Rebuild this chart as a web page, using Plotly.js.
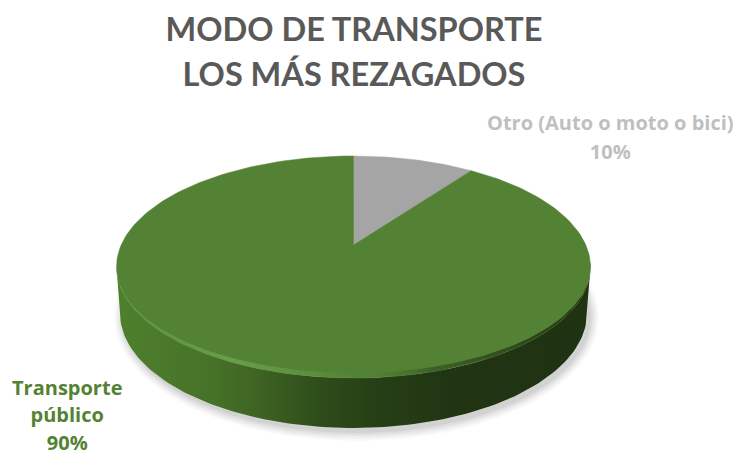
<!DOCTYPE html>
<html>
<head>
<meta charset="utf-8">
<script src="https://cdn.plot.ly/plotly-3.0.1.min.js"></script>
<style>html,body{margin:0;padding:0;background:#fff}#chart{width:737px;height:455px}</style>
</head>
<body>
<div id="chart"></div>
<script>
// Data
const titleLines = ['MODO DE TRANSPORTE', 'LOS MÁS REZAGADOS'];
const categories = ['Otro (Auto o moto o bici)', 'Transporte<br>público'];
const values = [10, 90];
const sliceColors = ['#A5A5A5', '#548235'];
const labelColors = ['#BFBFBF', '#548235'];

// 3D view of the pie (pixel-based axes)
const cx = 353.5, cy = 267, rx = 237, ry = 111, tilt = 0.198;
const wall = {cx: 353.5, cy: 313, rx: 233.5, ry: 115};
const TITLE_FONT = 'Lato, "Open Sans", sans-serif';
const LABEL_FONT = '"Open Sans", Lato, sans-serif';

function onDisc(frac, r) {
  const t = frac * 2 * Math.PI, u = Math.sin(t) * (r === undefined ? 1 : r), v = Math.cos(t) * (r === undefined ? 1 : r);
  const d = 1 + tilt * v;
  return [cx + rx * Math.sqrt(1 - tilt * tilt) * u / d, cy - ry * (v + tilt) / d];
}
function arc(e, a0, a1, n) {
  const xs = [], ys = [];
  for (let i = 0; i <= n; i++) {
    const a = (a0 + (a1 - a0) * i / n) * Math.PI / 180;
    xs.push(e.cx + e.rx * Math.cos(a)); ys.push(e.cy + e.ry * Math.sin(a));
  }
  return [xs, ys];
}
const top_ = {cx, cy, rx, ry};
const traces = [];

// soft shadow under the disc
[[9, 0.025], [7, 0.03], [5, 0.035], [3, 0.04], [1, 0.05]].forEach(([g, al]) => {
  const [x, y] = arc({cx: wall.cx + 3, cy: wall.cy + 4, rx: wall.rx + g, ry: wall.ry + g}, 0, 360, 120);
  traces.push({type: 'scatter', mode: 'lines', x, y, fill: 'toself', fillcolor: `rgba(0,0,0,${al})`, line: {width: 0}, hoverinfo: 'skip', showlegend: false});
});

// side wall
{
  const [x0, y0] = arc(top_, 180, 0, 120);
  const [x1, y1] = arc(wall, 0, 180, 120);
  traces.push({
    type: 'scatter', mode: 'lines', x: x0.concat(x1), y: y0.concat(y1), fill: 'toself',
    line: {width: 0}, hoverinfo: 'skip', showlegend: false,
    fillgradient: {type: 'horizontal', colorscale: [
      [0, '#4E802C'], [0.2, '#467228'], [0.3, '#3E6323'], [0.42, '#2F4E1B'],
      [0.55, '#263F16'], [0.7, '#213513'], [1, '#1F3212']]}
  });
}

// slices on the top surface, driven by the values
const total = values.reduce((a, b) => a + b, 0);
let start = 0;
values.forEach((v, i) => {
  const end = start + v / total, x = [], y = [];
  const n = Math.max(4, Math.round((end - start) * 240));
  for (let k = 0; k <= n; k++) {
    const p = onDisc(start + (end - start) * k / n);
    x.push(p[0]); y.push(p[1]);
  }
  const c = onDisc(0, 0);
  x.push(c[0]); y.push(c[1]); x.push(x[0]); y.push(y[0]);
  traces.push({type: 'scatter', mode: 'lines', x, y, fill: 'toself', fillcolor: sliceColors[i],
    line: {width: 0.5, color: sliceColors[i]}, name: categories[i], hoverinfo: 'name', showlegend: false});
  start = end;
});

// bevel on the front rim
{
  const [x0, y0] = arc(top_, 183, -3, 140);
  const [x1, y1] = arc({cx, cy, rx: rx, ry: ry - 5}, -3, 183, 140);
  traces.push({
    type: 'scatter', mode: 'lines', x: x0.concat(x1), y: y0.concat(y1), fill: 'toself',
    line: {width: 0}, hoverinfo: 'skip', showlegend: false,
    fillgradient: {type: 'horizontal', colorscale: [
      [0, 'rgba(96,150,66,0.8)'], [0.25, 'rgba(104,160,72,0.95)'], [0.42, 'rgba(96,150,66,0.6)'],
      [0.52, 'rgba(84,130,53,0.1)'], [0.66, 'rgba(40,66,24,0.5)'], [1, 'rgba(30,50,18,1)']]}
  });
}

// data labels
const labelPos = [[610, 137], [67, 415]];
const labelBox = [22, 21];
const annotations = categories.map((c, i) => ({
  x: labelPos[i][0], y: labelPos[i][1], xref: 'x', yref: 'y', xanchor: 'center', yanchor: 'middle',
  showarrow: false, align: 'center', font: {family: LABEL_FONT, size: labelBox[i], color: labelColors[i]},
  text: (c + '<br>' + Math.round(values[i] / total * 100) + '%').split('<br>')
    .map(s => `<span style="font-size:20px"><b>${s}</b></span>`).join('<br>')
}));

const layout = {
  width: 737, height: 455, margin: {l: 0, r: 0, t: 0, b: 0},
  paper_bgcolor: '#fff', plot_bgcolor: '#fff', showlegend: false,
  title: {
    text: titleLines.map(s => `<span style="font-size:32.5px"><b>${s}</b></span>`).join('<br>'),
    font: {family: TITLE_FONT, size: 34, color: '#595959'},
    x: 354 / 737, xanchor: 'center', xref: 'paper', y: 0.909, yanchor: 'top'
  },
  xaxis: {range: [0, 737], visible: false, fixedrange: true},
  yaxis: {range: [455, 0], visible: false, fixedrange: true},
  annotations
};
Plotly.newPlot('chart', traces, layout, {displayModeBar: false, staticPlot: true});
</script>
</body>
</html>
